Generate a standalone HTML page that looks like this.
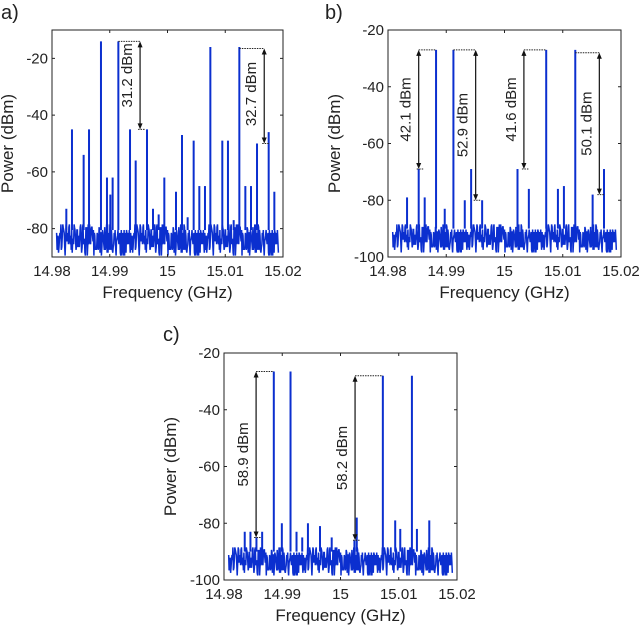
<!DOCTYPE html>
<html><head><meta charset="utf-8">
<style>
html,body{margin:0;padding:0;background:#fff;}
svg{display:block;font-family:"Liberation Sans",Arial,sans-serif;}
</style></head>
<body>
<svg id="fig" width="640" height="627" viewBox="0 0 640 627" xmlns="http://www.w3.org/2000/svg"></svg>
<script>
const xTicks = [14.98, 14.99, 15, 15.01, 15.02];
const xTickLabels = ["14.98", "14.99", "15", "15.01", "15.02"];
const yTicksA = [-20, -40, -60, -80];
const yTicksBC = [-20, -40, -60, -80, -100];

const aFreq = [14.98248,14.98346,14.98548,14.98641,14.98848,14.98952,14.9901,14.9905,14.99149,14.99351,14.99449,14.99645,14.99749,14.99847,14.99945,15.00147,15.00251,15.00349,15.00453,15.00551,15.00649,15.00742,15.00949,15.01047,15.01146,15.01244,15.01348,15.01446,15.0155,15.01752,15.0185];
const aPow = [-73,-45,-54,-45,-14,-62,-68,-62,-14,-45,-56,-45,-73,-75,-62,-67,-47,-76,-49,-65,-65,-16,-49,-49,-77,-16,-65,-65,-50,-46,-67];

const bFreq = [14.98327,14.98527,14.9863,14.98825,14.98974,14.99123,14.99318,14.99427,14.99616,15.00223,15.00418,15.00716,15.00917,15.0102,15.01215,15.01513,15.01708];
const bPow = [-79,-69,-79,-27,-83,-27,-80,-69,-80,-69,-76,-27,-76,-75,-27,-78,-69];

const cFreq = [14.98356,14.98454,14.98557,14.98655,14.98855,14.98993,14.99142,14.99245,14.99343,14.99441,14.99648,14.99849,15.00239,15.00279,15.00727,15.00939,15.01026,15.01226,15.01312,15.01524];
const cPow = [-83,-83,-85,-83,-26.5,-80,-26.5,-83,-85,-80,-81,-85,-86,-78,-28,-79,-82,-28,-82,-79];

const noise = [2,-3,4,-5,1,-2,5,-4,0,3,-6,2,-1,4,-3,1,-5,3,-2,5,-4,1,-3,2,-6,4,-1,3,-5,0,2,-4,5,-2,1,-3,4,-6,2,-1,3,-4,0,5,-3,1,-2,4,-5,2,-1,3,-6,1,4,-3,0,-5,2,3,-4,1,-2,5,-3,0,-6,3,-1,2,-4,4,-2,1,-5,3,0,-3,5,-4,2,-1,-6,3,1,-2,4,-5,0,2,-3,5,-1,-4,3,-2,1,-6,4,0,-3,2,5,-4,-1,3,-5,1,-2,4,-3,0,2,-6,5,-1,3,-4,1,-2,4,-5,2,0,-3,3,-6,1,5,-2,-4,2,0,-1,4,-5,3,-3,1,-2,5,-6,2,-1,3,-4,0,4,-2,1,-5,3,-3,2,-1,5,-4];

const NS = "http://www.w3.org/2000/svg";
const svg = document.getElementById("fig");
function mk(tag, attrs, parent){
  const e = document.createElementNS(NS, tag);
  for (const k in attrs) e.setAttribute(k, attrs[k]);
  (parent||svg).appendChild(e);
  return e;
}

function panel(cfg){
  const g = mk("g", {});
  
  
  const L=cfg.L,R=cfg.R,T=cfg.T,B=cfg.B;
  const xs = f => L + (f-14.98)/0.04*(R-L);
  const ys = v => T + (cfg.ymax - v)/(cfg.ymax - cfg.ymin)*(B-T);
  const clip = "clip-"+cfg.id;
  const cp = mk("clipPath",{id:clip},g);
  mk("rect",{x:L,y:T,width:R-L,height:B-T},cp);
  const dg = mk("g",{"clip-path":"url(#"+clip+")"},g);
  const n = noise.length;
  const M = n*3;
  let pts=[];
  for(let i=0;i<M;i++){
    const f = cfg.f0 + (cfg.f1-cfg.f0)*i/(M-1);
    const v = noise[(i*7) % n];
    pts.push(xs(f).toFixed(1)+","+ys(cfg.floor+v*cfg.amp).toFixed(1));
  }
  const pl = mk("polyline",{points:pts.join(" "),fill:"none",stroke:"#0b2fcf","stroke-width":1.5},dg);
  
  
  for(let i=0;i<cfg.freq.length;i++){
    const x = xs(cfg.freq[i]);
    const ln = mk("line",{x1:x,x2:x,y1:ys(cfg.floor+3),y2:ys(cfg.pow[i]),stroke:"#0b2fcf","stroke-width":2},dg);
    
    
  }
  const box = mk("rect",{x:L,y:T,width:R-L,height:B-T,fill:"none",stroke:"#222","stroke-width":1},g);
  
  
  xTicks.forEach((t,i)=>{
    const x=xs(t);
    mk("line",{x1:x,x2:x,y1:B,y2:B-3,stroke:"#222"},g);
    mk("line",{x1:x,x2:x,y1:T,y2:T+3,stroke:"#222"},g);
    const tx = mk("text",{x:x,y:B+19,"font-size":15,"text-anchor":"middle",fill:"#222"},g);
    tx.textContent = xTickLabels[i];
    
    
  });
  cfg.yt.forEach(t=>{
    const y=ys(t);
    mk("line",{x1:L,x2:L+3,y1:y,y2:y,stroke:"#222"},g);
    mk("line",{x1:R,x2:R-3,y1:y,y2:y,stroke:"#222"},g);
    const tx = mk("text",{x:L-4,y:y+5,"font-size":15,"text-anchor":"end",fill:"#222"},g);
    tx.textContent = String(t);
    
    
  });
  const xt = mk("text",{x:(L+R)/2,y:B+41,"font-size":17,"text-anchor":"middle",fill:"#222"},g);
  xt.textContent = "Frequency (GHz)";
  
  
  const yx = cfg.ytx, yy=(T+B)/2;
  const yt = mk("text",{x:yx,y:yy,"font-size":17,"text-anchor":"middle",fill:"#222",transform:"rotate(-90 "+yx+" "+yy+")"},g);
  yt.textContent = "Power (dBm)";
  
  
  const pt = mk("text",{x:cfg.lx,y:cfg.ly,"font-size":20,fill:"#222"},g);
  pt.textContent = cfg.letter;
  
  
  cfg.ann.forEach(a=>{
    const ax=xs(a.fa), y1=ys(a.top), y2=ys(a.bot);
    mk("line",{x1:xs(a.fd0),x2:xs(a.fd1),y1:y1,y2:y1,stroke:"#222","stroke-width":1,"stroke-dasharray":"1.5,1"},g);
    mk("line",{x1:ax-2,x2:ax+5,y1:y2,y2:y2,stroke:"#222","stroke-width":1,"stroke-dasharray":"1.5,1"},g);
    mk("line",{x1:ax,x2:ax,y1:y1+4,y2:y2-4,stroke:"#111","stroke-width":1.2},g);
    mk("path",{d:`M${ax-2.5},${y1+6}L${ax},${y1}L${ax+2.5},${y1+6}Z`,fill:"#111"},g);
    mk("path",{d:`M${ax-2.5},${y2-6}L${ax},${y2}L${ax+2.5},${y2-6}Z`,fill:"#111"},g);
    const lx = ax-8, ly=(y1+y2)/2 + (a.dy||0);
    const t = mk("text",{x:lx,y:ly,"font-size":15,"text-anchor":"middle",fill:"#222",transform:"rotate(-90 "+lx+" "+ly+")"},g);
    t.textContent = a.text;
    
    
  });
}

panel({id:"a",name:"panel-a",letter:"a)",lx:1,ly:19,L:52,R:283,T:30,B:257,ymin:-90,ymax:-10,yt:yTicksA,ytx:13,
  freq:aFreq,pow:aPow,floor:-83.5,amp:1,f0:14.9808,f1:15.0192,
  ann:[{fa:14.99525,top:-14,bot:-45,fd0:14.99149,fd1:14.99525,text:"31.2 dBm",dy:-10},
       {fa:15.01675,top:-16.5,bot:-50,fd0:15.01244,fd1:15.01675,text:"32.7 dBm",dy:-2}]});
panel({id:"b",name:"panel-b",letter:"b)",lx:325,ly:19,L:388,R:621,T:30,B:257,ymin:-100,ymax:-20,yt:yTicksBC,ytx:340,
  freq:bFreq,pow:bPow,floor:-93,amp:0.9,f0:14.9808,f1:15.0192,
  ann:[{fa:14.98527,top:-27,bot:-69,fd0:14.98527,fd1:14.98825,text:"42.1 dBm"},
       {fa:14.99505,top:-27,bot:-80,fd0:14.99123,fd1:14.99505,text:"52.9 dBm"},
       {fa:15.00333,top:-27,bot:-69,fd0:15.00333,fd1:15.00716,text:"41.6 dBm"},
       {fa:15.01628,top:-28,bot:-78,fd0:15.01215,fd1:15.01628,text:"50.1 dBm"}]});
panel({id:"c",name:"panel-c",letter:"c)",lx:163,ly:341,L:224,R:457,T:353,B:580,ymin:-100,ymax:-20,yt:yTicksBC,ytx:176,
  freq:cFreq,pow:cPow,floor:-93,amp:0.9,f0:14.9808,f1:15.0192,
  ann:[{fa:14.98551,top:-26.5,bot:-85,fd0:14.98551,fd1:14.98855,text:"58.9 dBm"},
       {fa:15.00250,top:-28,bot:-86,fd0:15.0025,fd1:15.00727,text:"58.2 dBm"}]});
</script>
</body></html>
